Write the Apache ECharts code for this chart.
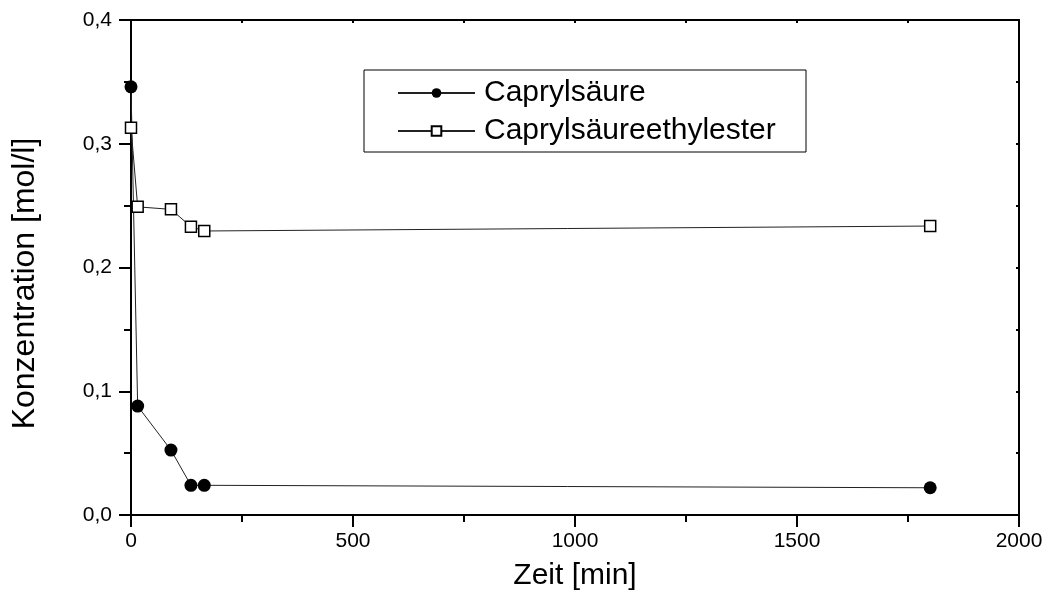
<!DOCTYPE html>
<html>
<head>
<meta charset="utf-8">
<script src="https://cdn.jsdelivr.net/npm/echarts@6/dist/echarts.min.js"></script>
<style>
html,body{margin:0;padding:0;background:#fff;}
#c{width:1050px;height:598px;}
</style>
</head>
<body>
<div id="c"></div>
<script>
const seriesNames = ['Caprylsäure', 'Caprylsäureethylester'];
const timeAcid = [0, 15, 90, 135, 165, 1800];
const acidValues = [0.346, 0.088, 0.0525, 0.024, 0.024, 0.022];
const timeEster = [0, 15, 90, 135, 165, 1800];
const esterValues = [0.313, 0.249, 0.247, 0.233, 0.2295, 0.2335];
const xTitle = 'Zeit [min]';
const yTitle = 'Konzentration [mol/l]';

const FONT = "'Liberation Sans', Arial, sans-serif";
const chart = echarts.init(document.getElementById('c'), null, {renderer: 'canvas'});
const pair = (xs, ys) => xs.map((x, i) => [x, ys[i]]);
const axisLine = {show: true, onZero: false, lineStyle: {color: '#000', width: 2}};

chart.setOption({
  animation: false,
  backgroundColor: '#fff',
  grid: {left: 131, right: 31, top: 20, bottom: 83, containLabel: false},
  graphic: [{
    type: 'rect', z: 10,
    shape: {x: 364, y: 70, width: 442, height: 82},
    style: {fill: null, stroke: '#000', lineWidth: 1}
  }],
  legend: {
    orient: 'vertical', left: 397, top: 78, z: 11,
    itemWidth: 77, itemHeight: 12, itemGap: 8,
    padding: 0,
    textStyle: {fontFamily: FONT, fontSize: 30, color: '#000', lineHeight: 30, padding: [0, 0, 0, 4]},
    data: seriesNames
  },
  xAxis: [{
    type: 'value', min: 0, max: 2000, interval: 500,
    name: xTitle, nameLocation: 'middle', nameGap: 46,
    nameTextStyle: {fontFamily: FONT, fontSize: 30, color: '#000'},
    axisLine: axisLine,
    axisTick: {show: true, inside: false, length: 12, lineStyle: {color: '#000', width: 2}},
    minorTick: {show: true, splitNumber: 2, length: 7, lineStyle: {color: '#000', width: 2}},
    axisLabel: {fontFamily: FONT, fontSize: 21, color: '#000', margin: 16,
      formatter: v => String(v)},
    splitLine: {show: false}
  }, {
    type: 'value', position: 'top', min: 0, max: 2000, interval: 500,
    axisLine: axisLine,
    axisTick: {show: true, inside: true, length: 3, lineStyle: {color: '#000', width: 2}},
    minorTick: {show: true, splitNumber: 2, length: 3, lineStyle: {color: '#000', width: 2}},
    axisLabel: {show: false}, splitLine: {show: false}
  }],
  yAxis: [{
    type: 'value', min: 0, max: 0.4, interval: 0.1,
    name: yTitle, nameLocation: 'middle', nameGap: 90, nameRotate: 90,
    nameTextStyle: {fontFamily: FONT, fontSize: 32, color: '#000', padding: [0, 32, 0, 0]},
    axisLine: axisLine,
    axisTick: {show: true, inside: false, length: 12, lineStyle: {color: '#000', width: 2}},
    minorTick: {show: true, splitNumber: 2, length: 7, lineStyle: {color: '#000', width: 2}},
    axisLabel: {fontFamily: FONT, fontSize: 21, color: '#000', margin: 19,
      formatter: v => v.toFixed(1).replace('.', ',')},
    splitLine: {show: false}
  }, {
    type: 'value', position: 'right', min: 0, max: 0.4, interval: 0.1,
    axisLine: axisLine,
    axisTick: {show: true, inside: true, length: 3, lineStyle: {color: '#000', width: 2}},
    minorTick: {show: true, splitNumber: 2, length: 3, lineStyle: {color: '#000', width: 2}},
    axisLabel: {show: false}, splitLine: {show: false}
  }],
  series: [{
    name: seriesNames[0], type: 'line', data: pair(timeAcid, acidValues),
    symbol: 'circle', symbolSize: 13, clip: false,
    lineStyle: {color: '#222', width: 1},
    itemStyle: {color: '#000', borderColor: '#000', borderWidth: 0}
  }, {
    name: seriesNames[1], type: 'line', data: pair(timeEster, esterValues),
    symbol: 'rect', symbolSize: 11, clip: false,
    lineStyle: {color: '#222', width: 1},
    itemStyle: {color: '#fff', borderColor: '#000', borderWidth: 1.5}
  }]
});
</script>
</body>
</html>
